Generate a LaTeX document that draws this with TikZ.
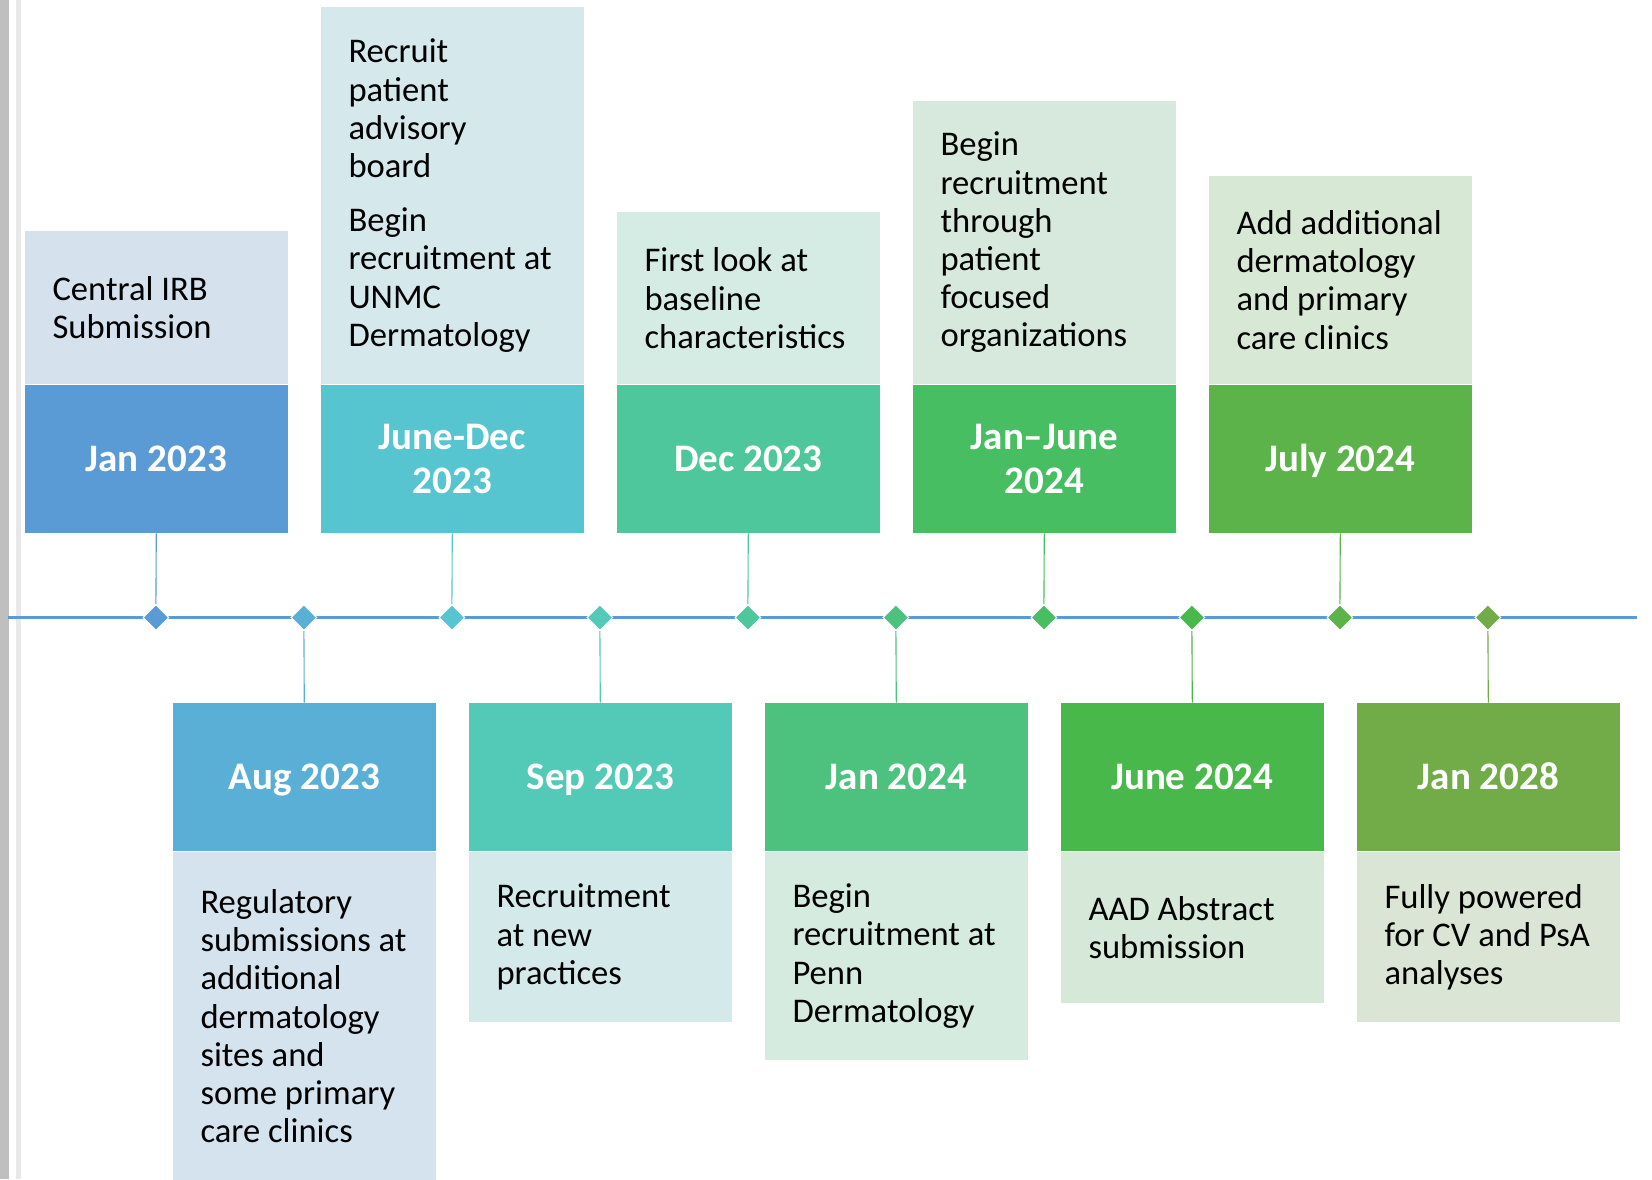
\documentclass[tikz,border=0pt]{standalone}
\usepackage{fontspec}
\setmainfont{Carlito}
\usetikzlibrary{shapes.geometric}
\definecolor{d1}{HTML}{5B9BD5}\definecolor{l1}{HTML}{D6E1EE}
\definecolor{d2}{HTML}{59AFD5}\definecolor{l2}{HTML}{D4E3EE}
\definecolor{d3}{HTML}{56C5CF}\definecolor{l3}{HTML}{D5E8EC}
\definecolor{d4}{HTML}{53C9B7}\definecolor{l4}{HTML}{D4EAEA}
\definecolor{d5}{HTML}{4FC79D}\definecolor{l5}{HTML}{D5ECE5}
\definecolor{d6}{HTML}{4CC27E}\definecolor{l6}{HTML}{D5EBDF}
\definecolor{d7}{HTML}{48BE62}\definecolor{l7}{HTML}{D6E9DC}
\definecolor{d8}{HTML}{48B84A}\definecolor{l8}{HTML}{D6E9D8}
\definecolor{d9}{HTML}{5CB349}\definecolor{l9}{HTML}{D7E8D5}
\definecolor{d10}{HTML}{71AC48}\definecolor{l10}{HTML}{DBE5D5}
\definecolor{axis}{HTML}{5B9BD5}
\tikzset{
  datebox/.style={rectangle, inner sep=0pt, minimum width=131.2pt, minimum height=74pt,
    text=white, font=\fontsize{19.5}{22.2}\selectfont\bfseries, align=center},
  oneline/.style={text height=13.2pt, text depth=0.6pt},
  infobox/.style={rectangle, inner sep=0pt, minimum width=131.2pt, minimum height=#1},
  infotext/.style={anchor=west, inner sep=0pt, align=left, text=black,
    font=\fontsize{17.3}{19.1}\selectfont, xshift=13.7pt},
  marker/.style={diamond, inner sep=0pt, minimum width=13pt, minimum height=13pt, draw=white, line width=0.5pt},
  link/.style={line width=0.55pt}
}
\begin{document}
\begin{tikzpicture}[x=0.5pt,y=-0.5pt]
\useasboundingbox (0,0) rectangle (1652,1179);
\fill[white] (0,0) rectangle (1652,1179);
% left edge bars
\fill[black!25] (0,0) rectangle (9,1179);
\fill[black!9] (16,0) rectangle (21,1179);
% timeline axis
\draw[axis, line width=1.2pt] (8,617.5) -- (1637,617.5);

% top row date boxes
\node[datebox, oneline, fill=d1, anchor=north west] (d1) at (24.7,384.6) {Jan 2023};
\node[datebox, fill=d3, anchor=north west] (d3) at (320.7,384.6) {June-Dec\\2023};
\node[datebox, oneline, fill=d5, anchor=north west] (d5) at (616.7,384.6) {Dec 2023};
\node[datebox, fill=d7, anchor=north west] (d7) at (912.7,384.6) {Jan–June\\2024};
\node[datebox, oneline, fill=d9, anchor=north west] (d9) at (1208.7,384.6) {July 2024};

% top row info boxes
\node[infobox=76.4pt, fill=l1, anchor=south west] (l1) at (24.7,384.6) {};
\node[infobox=188.6pt, fill=l3, anchor=south west] (l3) at (320.7,384.6) {};
\node[infobox=85.9pt, fill=l5, anchor=south west] (l5) at (616.7,384.6) {};
\node[infobox=141.75pt, fill=l7, anchor=south west] (l7) at (912.7,384.6) {};
\node[infobox=104.3pt, fill=l9, anchor=south west] (l9) at (1208.7,384.6) {};

% bottom row date boxes
\node[datebox, oneline, fill=d2, anchor=north west] (d2) at (172.7,702.7) {Aug 2023};
\node[datebox, oneline, fill=d4, anchor=north west] (d4) at (468.7,702.7) {Sep 2023};
\node[datebox, oneline, fill=d6, anchor=north west] (d6) at (764.7,702.7) {Jan 2024};
\node[datebox, oneline, fill=d8, anchor=north west] (d8) at (1060.7,702.7) {June 2024};
\node[datebox, oneline, fill=d10, anchor=north west] (d10) at (1356.7,702.7) {Jan 2028};

% bottom row info boxes
\node[infobox=164.4pt, fill=l2, anchor=north west] (l2) at (172.7,851.3) {};
\node[infobox=85.35pt, fill=l4, anchor=north west] (l4) at (468.7,851.3) {};
\node[infobox=104.35pt, fill=l6, anchor=north west] (l6) at (764.7,851.3) {};
\node[infobox=75.85pt, fill=l8, anchor=north west] (l8) at (1060.7,851.3) {};
\node[infobox=85.35pt, fill=l10, anchor=north west] (l10) at (1356.7,851.3) {};

% info texts
\node[infotext] (t1) at (l1.west) {Central IRB\\Submission};
\node[infotext] (t3) at (l3.west) {Recruit\\patient\\advisory\\board\\[8pt]Begin\\recruitment at\\UNMC\\Dermatology};
\node[infotext] (t5) at (l5.west) {First look at\\baseline\\characteristics};
\node[infotext] (t7) at (l7.west) {Begin\\recruitment\\through\\patient\\focused\\organizations};
\node[infotext] (t9) at (l9.west) {Add additional\\dermatology\\and primary\\care clinics};
\node[infotext] (t2) at (l2.west) {Regulatory\\submissions at\\additional\\dermatology\\sites and\\some primary\\care clinics};
\node[infotext] (t4) at (l4.west) {Recruitment\\at new\\practices};
\node[infotext] (t6) at (l6.west) {Begin\\recruitment at\\Penn\\Dermatology};
\node[infotext] (t8) at (l8.west) {AAD Abstract\\submission};
\node[infotext] (t10) at (l10.west) {Fully powered\\for CV and PsA\\analyses};

% markers on the axis
\foreach \i in {1,...,10} {
  \node[marker, fill=d\i] (m\i) at ({155.9+148*(\i-1)},617.5) {};
}

% connectors
\foreach \i in {1,3,5,7,9} {
  \draw[link, d\i] (d\i.south) -- (m\i.north);
}
\foreach \i in {2,4,6,8,10} {
  \draw[link, d\i] (m\i.south) -- (d\i.north);
}
\end{tikzpicture}
\end{document}
